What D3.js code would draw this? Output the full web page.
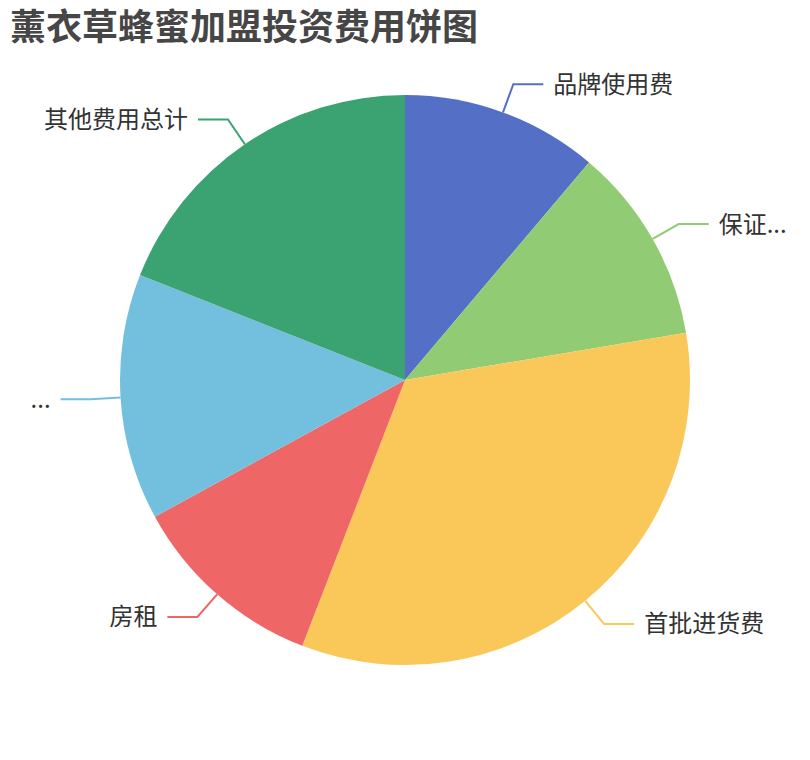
<!DOCTYPE html>
<html>
<head>
    <meta charset="utf-8">
    <title>pie</title>
    <style>
        body { margin: 0; background: #fff; }
    </style>
</head>
<body>
    <script src="https://d3js.org/d3.v7.min.js"></script>
    <svg width="810" height="760" id="mainsvg"></svg>
    <script>
        // data (万元)
        const names = ['品牌使用费', '保证金费用', '首批进货费', '房租', '装修及设备费用', '其他费用总计'];
        const labels = ['品牌使用费', '保证...', '首批进货费', '房租', '...', '其他费用总计'];
        const values = [2, 2, 6, 2, 2.5, 3.4];
        const colors = ['#5470c6', '#91cc75', '#fac858', '#ee6666', '#73c0de', '#3ba272'];
        const title = '薰衣草蜂蜜加盟投资费用饼图';

        const svg = d3.select('#mainsvg');
        const font = '"Noto Sans CJK SC", "Noto Sans", sans-serif';
        const cx = 405, cy = 380, r = 285;
        const len1 = 30, len2 = 30, gap = 10;

        svg.append('text')
            .attr('x', 10)
            .attr('y', 40)
            .attr('font-family', font)
            .attr('font-size', 36)
            .attr('font-weight', 'bold')
            .attr('fill', '#464646')
            .text(title);

        const data = names.map((n, i) => ({ name: n, label: labels[i], value: values[i], color: colors[i] }));
        const pie = d3.pie().sort(null).value(d => d.value);
        const arcs = pie(data);
        const arc = d3.arc().innerRadius(0).outerRadius(r);

        const g = svg.append('g').attr('transform', `translate(${cx},${cy})`);

        g.selectAll('path')
            .data(arcs)
            .join('path')
            .attr('d', arc)
            .attr('fill', d => d.data.color);

        // label lines: radial out then horizontal
        const pt = (a, rr) => [rr * Math.sin(a), -rr * Math.cos(a)];
        arcs.forEach(d => {
            const mid = (d.startAngle + d.endAngle) / 2;
            const p0 = pt(mid, r), p1 = pt(mid, r + len1);
            const right = p1[0] >= 0;
            const p2 = [p1[0] + (right ? len2 : -len2), p1[1]];
            g.append('polyline')
                .attr('points', [p0, p1, p2].map(p => p.join(',')).join(' '))
                .attr('fill', 'none')
                .attr('stroke', d.data.color)
                .attr('stroke-width', 2);
            g.append('text')
                .attr('x', p2[0] + (right ? gap : -gap))
                .attr('y', p2[1])
                .attr('dy', '0.35em')
                .attr('text-anchor', right ? 'start' : 'end')
                .attr('font-family', font)
                .attr('font-size', 24)
                .attr('fill', '#333')
                .text(d.data.label);
        });
    </script>
</body>
</html>
